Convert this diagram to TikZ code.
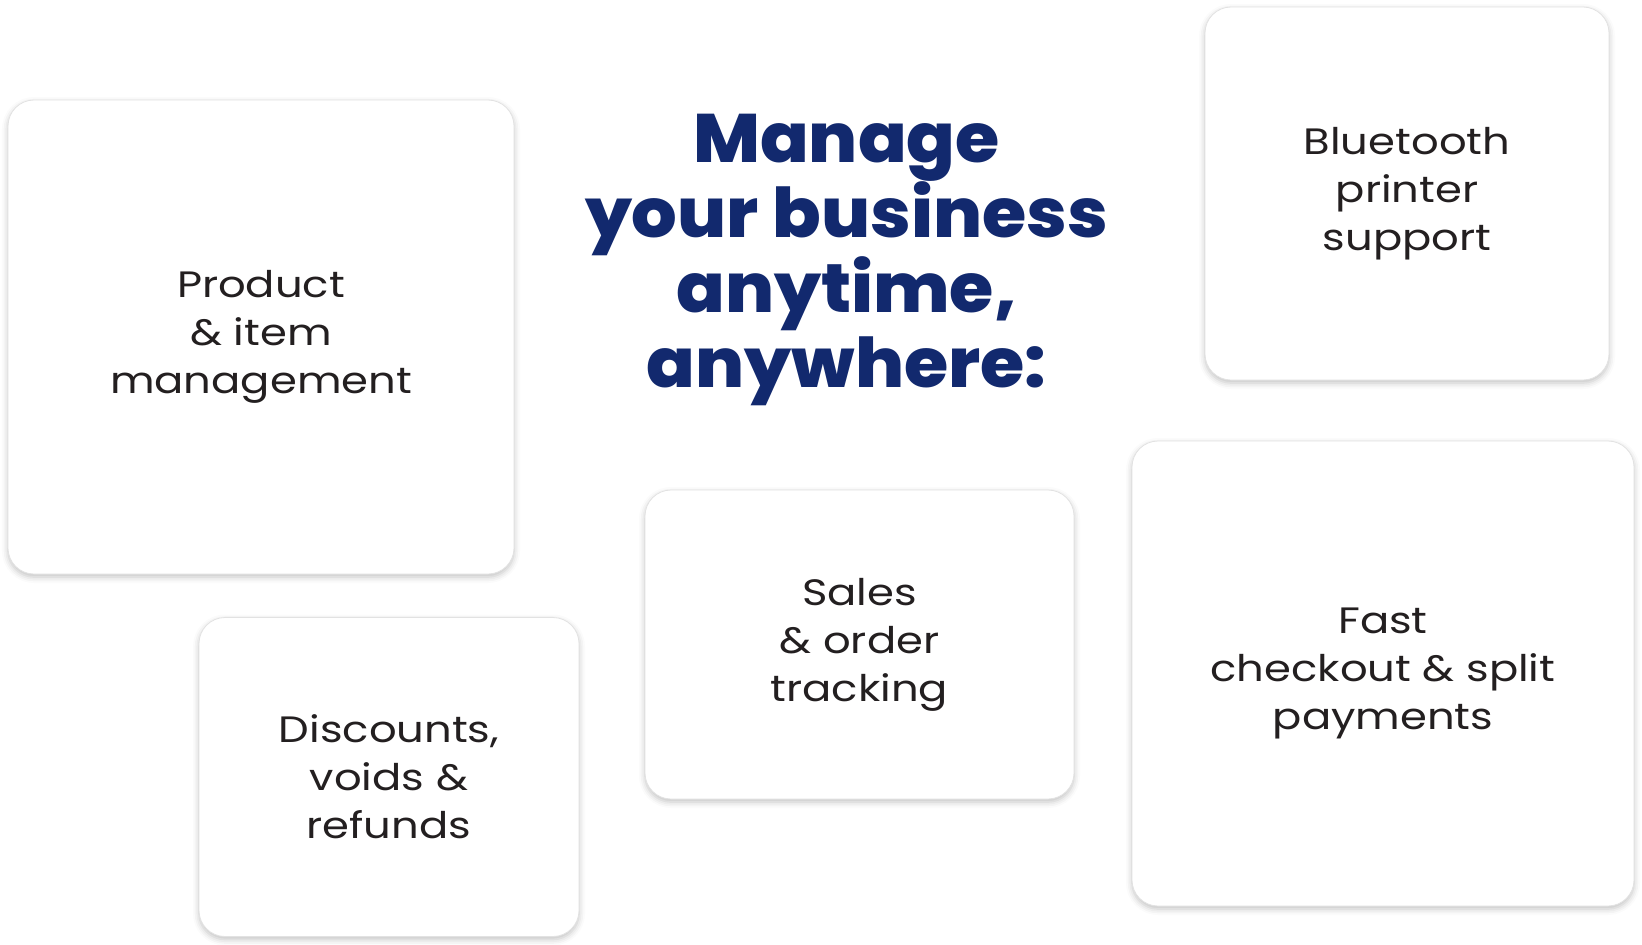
\documentclass[tikz,border=0pt]{standalone}
\usepackage{fontspec}
\setmainfont{Poppins}
\newfontfamily\cardfont{Poppins}[FakeStretch=1.18]
\newfontfamily\headfont{Poppins}[UprightFont=* ExtraBold, FakeStretch=1.045]
\usetikzlibrary{shadows.blur}
\definecolor{navy}{HTML}{12296E}
\definecolor{ink}{HTML}{231F20}
\definecolor{rim}{HTML}{E2E2E2}

\begin{document}
\begin{tikzpicture}[x=1bp, y=-1bp,
  card/.style={draw=rim, line width=0.8bp, fill=white, rounded corners=26bp, inner sep=0pt,
    blur shadow={shadow xshift=0bp, shadow yshift=-3bp, shadow blur radius=6bp, shadow opacity=24},
    text=ink, align=center, font=\cardfont\fontsize{36.7bp}{48bp}\selectfont},
  headline/.style={text=navy, align=center, inner sep=0pt, font=\headfont\fontsize{68.6bp}{75.3bp}\selectfont}
  ]
  \useasboundingbox (0,0) rectangle (1642,944);
  % cards
  \node[card, minimum width=506bp, minimum height=474bp] (prod) at (261,337) {Product\\\& item\\management};
  \node[card, minimum width=404bp, minimum height=373bp] (bluetooth) at (1407,193.5) {Bluetooth\\printer\\support};
  \node[card, minimum width=429bp, minimum height=309bp] (sales) at (859.5,644.5) {Sales\\\& order\\tracking};
  \node[card, minimum width=380bp, minimum height=319bp] (disc) at (389,777) {Discounts,\\voids \&\\refunds};
  \node[card, minimum width=502bp, minimum height=465bp] (fast) at (1383,673.5) {Fast\\checkout \& split\\payments};
  % title
  \node[headline] (title) at (846.5,260) {Manage\\your business\\anytime,\\anywhere:};
\end{tikzpicture}
\end{document}
